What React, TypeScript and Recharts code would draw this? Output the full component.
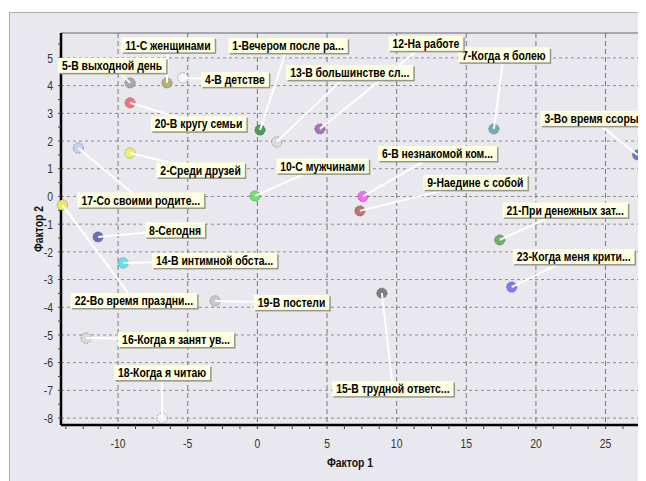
import React from 'react';
import { ScatterChart, Scatter, XAxis, YAxis, CartesianGrid, ReferenceLine } from 'recharts';

const IDS = [1, 2, 3, 4, 5, 6, 7, 8, 9, 10, 11, 12, 13, 14, 15, 16, 17, 18, 19, 20, 21, 22, 23];
const NAMES = [
  'Вечером после ра...',
  'Среди друзей',
  'Во время ссоры',
  'В детстве',
  'В выходной день',
  'В незнакомой ком...',
  'Когда я болею',
  'Сегодня',
  'Наедине с собой',
  'С мужчинами',
  'С женщинами',
  'На работе',
  'В большинстве сл...',
  'В интимной обста...',
  'В трудной ответс...',
  'Когда я занят ув...',
  'Со своими родите...',
  'Когда я читаю',
  'В постели',
  'В кругу семьи',
  'При денежных зат...',
  'Во время праздни...',
  'Когда меня крити...',
];
const FACTOR_1 = [0.19, -9.14, 27.3, -5.34, -9.14, 7.58, 16.98, -11.44, 7.36, -0.17, -6.49, 4.49, 1.39, -9.64, 8.94, -12.3, -12.86, -6.84, -3.04, -9.14, 17.4, -14.0, 18.26];
const FACTOR_2 = [2.4, 1.57, 1.5, 4.28, 4.1, 0.0, 2.44, -1.46, -0.52, 0.02, 4.1, 2.44, 1.97, -2.4, -3.49, -5.11, 1.75, -8.0, -3.77, 3.38, -1.57, -0.31, -3.27];

const X_MAJOR = [-10, -5, 0, 5, 10, 15, 20, 25];
const Y_MAJOR = [-8, -7, -6, -5, -4, -3, -2, -1, 0, 1, 2, 3, 4, 5];
const X_MINOR = [-13.75, -12.5, -11.25, -10, -8.75, -7.5, -6.25, -5, -3.75, -2.5, -1.25, 0, 1.25, 2.5, 3.75, 5, 6.25, 7.5, 8.75, 10, 11.25, 12.5, 13.75, 15, 16.25, 17.5, 18.75, 20, 21.25, 22.5, 23.75, 25, 26.25];
const Y_MINOR = [-8, -7.5, -7, -6.5, -6, -5.5, -5, -4.5, -4, -3.5, -3, -2.5, -2, -1.5, -1, -0.5, 0, 0.5, 1, 1.5, 2, 2.5, 3, 3.5, 4, 4.5, 5, 5.5];
const X_DOMAIN: [number, number] = [-14.1, 27.4];
const Y_DOMAIN: [number, number] = [-8.25, 5.9];

// styling (not data)
const COLORS = ['#4f9a5c', '#f2ef6e', '#6f72d6', '#f5f5f5', '#a9a9a9', '#f06ef0', '#6fb0b4', '#6e6ebe', '#c07272', '#6fe06f', '#b4b070', '#b070c0', '#dcdcdc', '#5fe3f0', '#7f7f7f', '#d6ded6', '#c4d4f0', '#f2f2f2', '#c8c8c8', '#f07480', '#6fb06f', '#ecea5c', '#7c7cf8'];
// pixel offsets of label centres relative to their points
const LABEL_OFFSETS: [number, number][] = [
  [28, -84.5], [70.5, 17], [-46, -36.5], [52, 1.5], [-18, -17.5], [74.5, -43], [10, -74], [77, -7],
  [115.5, -28.5], [67.5, -30], [1, -38], [106, -85.5], [73, -69.5], [91.5, -2.5], [11, 95.5], [90, 1.5],
  [62.5, 52], [0, -45.5], [76.5, 1.5], [68.5, 21], [65.5, -30], [71.5, 95.5], [62, -30.5],
];

const FONT = '"Liberation Sans", Arial, sans-serif';
const NARROW = 0.8;

const data = IDS.map((id, i) => ({ id, name: NAMES[i], x: FACTOR_1[i], y: FACTOR_2[i] }));

let ctx: CanvasRenderingContext2D | null = null;
function measure(t: string, size: number, bold: boolean): number {
  if (!ctx) {
    const c = document.createElement('canvas');
    ctx = c.getContext('2d');
  }
  if (!ctx) return t.length * size * 0.55;
  ctx.font = `${bold ? 'bold ' : ''}${size}px ${FONT}`;
  return ctx.measureText(t).width;
}

const NText = ({ x, y, text, size, bold, anchor, dy, fill, transform }: any) => {
  const w = measure(String(text), size, bold) * NARROW;
  return (
    <text
      x={x}
      y={y}
      dy={dy}
      textAnchor={anchor}
      fontFamily={FONT}
      fontWeight={bold ? 'bold' : 'normal'}
      fontSize={size}
      fill={fill}
      textLength={w}
      lengthAdjust="spacingAndGlyphs"
      transform={transform}
    >
      {text}
    </text>
  );
};

const PointShape = (p: any) => {
  const { cx, cy, payload } = p;
  return <circle cx={cx} cy={cy} r={5.2} fill={COLORS[payload.id - 1]} stroke="rgba(0,0,0,0.28)" strokeWidth={1} strokeDasharray="2 1" />;
};

const LineShape = (p: any) => {
  const { cx, cy, payload } = p;
  const [dx, dy] = LABEL_OFFSETS[payload.id - 1];
  return <line x1={cx} y1={cy} x2={cx + dx} y2={cy + dy} stroke="#ffffff" strokeWidth={2} />;
};

const LabelShape = (p: any) => {
  const { cx, cy, payload } = p;
  const [dx, dy] = LABEL_OFFSETS[payload.id - 1];
  const text = `${payload.id}-${payload.name}`;
  const w = measure(text, 13, true) * NARROW + 8;
  const h = 15;
  const lx = cx + dx - w / 2;
  const ly = cy + dy - h / 2;
  return (
    <g>
      <rect x={lx + 1.5} y={ly + 1.5} width={w} height={h} fill="#96968a" />
      <rect x={lx} y={ly} width={w} height={h} fill="#ffffe1" />
      <NText x={cx + dx} y={cy + dy} dy="0.36em" anchor="middle" size={13} bold fill="#000" text={text} />
    </g>
  );
};

const XTick = (p: any) => {
  const v = p.payload.value;
  if (!X_MAJOR.includes(v)) return <g />;
  return <NText x={p.x} y={p.y} dy="0.71em" anchor="middle" fill="#333" size={13} text={String(v)} />;
};

const YTick = (p: any) => {
  const v = p.payload.value;
  if (!Y_MAJOR.includes(v)) return <g />;
  return <NText x={p.x} y={p.y} dy="0.36em" anchor="end" fill="#333" size={13} text={String(v)} />;
};

const vGen = (props: any) => {
  const s = props?.xAxis?.scale;
  const off = props?.offset;
  return X_MAJOR.map((v) =>
    typeof s === 'function' ? s(v) : off.left + ((v - X_DOMAIN[0]) / (X_DOMAIN[1] - X_DOMAIN[0])) * off.width
  );
};
const hGen = (props: any) => {
  const s = props?.yAxis?.scale;
  const off = props?.offset;
  return Y_MAJOR.map((v) =>
    typeof s === 'function' ? s(v) : off.top + ((Y_DOMAIN[1] - v) / (Y_DOMAIN[1] - Y_DOMAIN[0])) * off.height
  );
};

const YTitle = (p: any) => {
  const vb = p?.viewBox || { x: 0, y: 33, width: 61, height: 392 };
  const x = vb.x + 38;
  const y = vb.y + vb.height / 2;
  return <NText x={x} y={y} dy="0.36em" anchor="middle" transform={`rotate(-90 ${x} ${y})`} bold size={13} fill="#111" text="Фактор 2" />;
};

const XTitle = (p: any) => {
  const vb = p?.viewBox || { x: 61, y: 425, width: 578, height: 56 };
  const x = vb.x + vb.width / 2;
  const y = vb.y + 37;
  return <NText x={x} y={y} dy="0.36em" anchor="middle" bold size={13} fill="#111" text="Фактор 1" />;
};

export default function App() {
  return (
    <div style={{ position: 'relative', width: 646, height: 481, margin: '-8px 0 0 -8px', background: '#fff', overflow: 'hidden' }}>
      <div
        style={{
          position: 'absolute',
          left: 9,
          top: 12,
          width: 637,
          height: 469,
          background: '#e9e8ee',
          borderLeft: '1px solid #b0b0b0',
          borderTop: '1px solid #b0b0b0',
          boxSizing: 'border-box',
        }}
      />
      <div style={{ position: 'absolute', left: 0, top: 0 }}>
        <ScatterChart width={646} height={481} margin={{ top: 33, right: 7, bottom: 0, left: 0 }}>
          <CartesianGrid vertical={false} stroke="#8c8c8c" strokeDasharray="3 3" horizontalCoordinatesGenerator={hGen} />
          <CartesianGrid horizontal={false} stroke="#777" strokeDasharray="5 3" verticalCoordinatesGenerator={vGen} />
          <XAxis
            type="number"
            dataKey="x"
            domain={X_DOMAIN}
            ticks={X_MINOR}
            interval={0}
            tick={<XTick />}
            tickSize={4}
            tickMargin={10}
            tickLine={{ stroke: '#444' }}
            axisLine={{ stroke: '#000', strokeWidth: 2.5 }}
            height={56}
            label={<XTitle />}
          />
          <YAxis
            type="number"
            dataKey="y"
            domain={Y_DOMAIN}
            ticks={Y_MINOR}
            interval={0}
            tick={<YTick />}
            tickSize={3}
            tickMargin={5}
            tickLine={{ stroke: '#444' }}
            axisLine={{ stroke: '#000', strokeWidth: 2.5 }}
            width={61}
            label={<YTitle />}
          />
          <ReferenceLine y={Y_DOMAIN[1]} stroke="#666" strokeWidth={1} />
          <ReferenceLine x={X_DOMAIN[1]} stroke="#666" strokeWidth={1} />
          <Scatter data={data} shape={PointShape} isAnimationActive={false} />
          <Scatter data={data} shape={LineShape} isAnimationActive={false} />
          <Scatter data={data} shape={LabelShape} isAnimationActive={false} />
        </ScatterChart>
      </div>
    </div>
  );
}
